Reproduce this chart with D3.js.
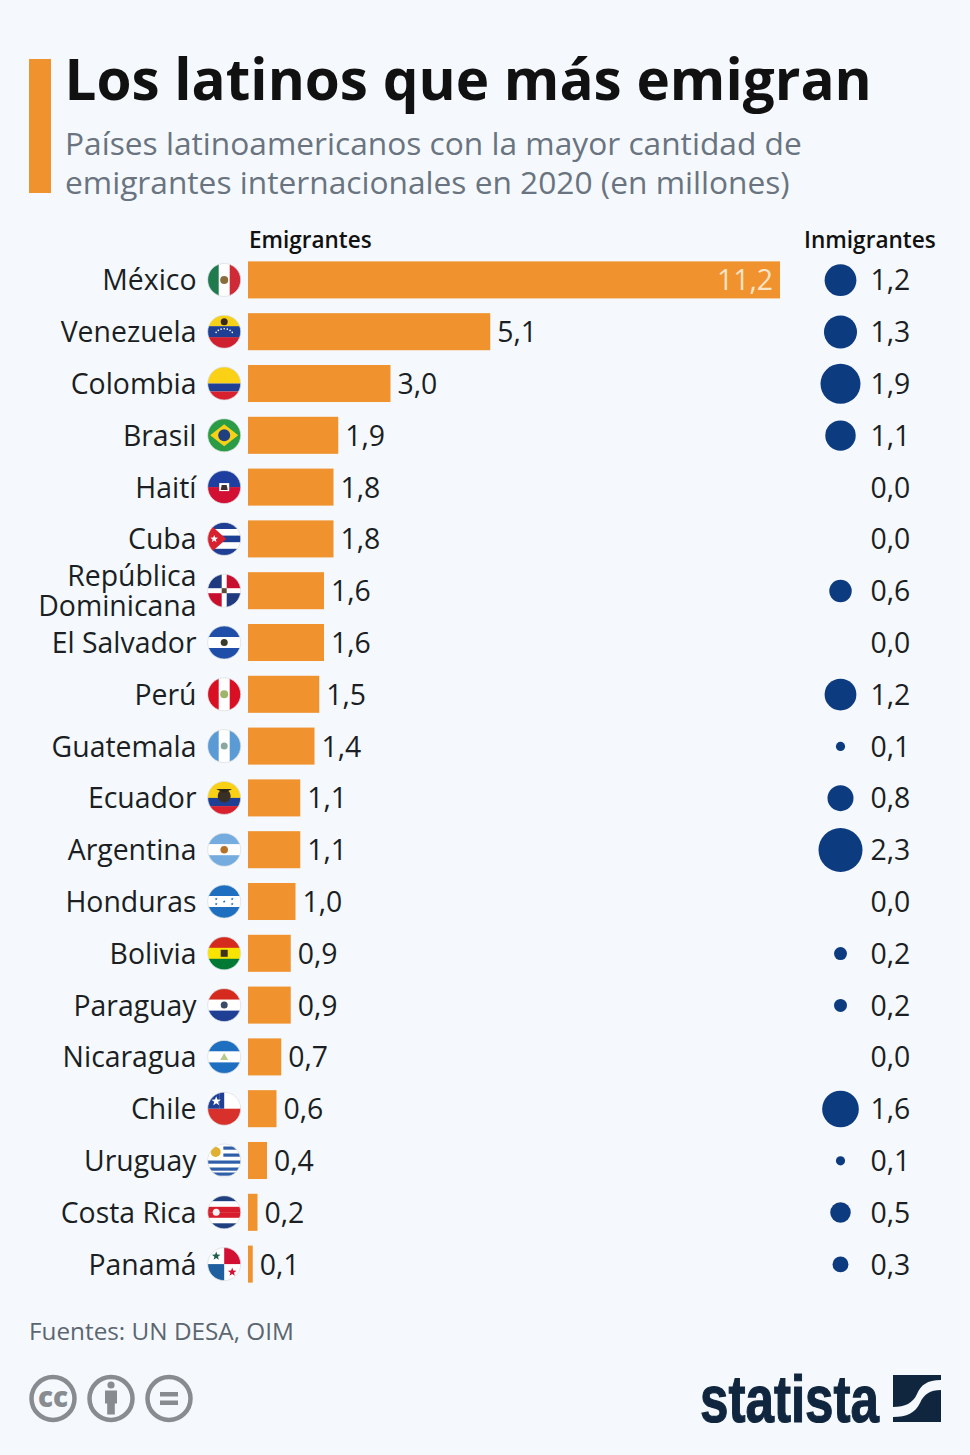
<!DOCTYPE html>
<html>
<head>
<meta charset="utf-8">
<script src="https://cdn.jsdelivr.net/npm/d3@7"></script>
<style>
html, body { margin: 0; padding: 0; background: #f5f9fd; }
text { font-family: "Open Sans", sans-serif; }
</style>
</head>
<body>
<svg id="chart" width="970" height="1455"></svg>
<script>
//DATA
var countries = ["México", "Venezuela", "Colombia", "Brasil", "Haití", "Cuba", "República Dominicana", "El Salvador", "Perú", "Guatemala", "Ecuador", "Argentina", "Honduras", "Bolivia", "Paraguay", "Nicaragua", "Chile", "Uruguay", "Costa Rica", "Panamá"];
var emigrants = [11.2, 5.1, 3.0, 1.9, 1.8, 1.8, 1.6, 1.6, 1.5, 1.4, 1.1, 1.1, 1.0, 0.9, 0.9, 0.7, 0.6, 0.4, 0.2, 0.1];
var immigrants = [1.2, 1.3, 1.9, 1.1, 0.0, 0.0, 0.6, 0.0, 1.2, 0.1, 0.8, 2.3, 0.0, 0.2, 0.2, 0.0, 1.6, 0.1, 0.5, 0.3];
var title = "Los latinos que más emigran";
var subtitle = ["Países latinoamericanos con la mayor cantidad de", "emigrantes internacionales en 2020 (en millones)"];
var source = "Fuentes: UN DESA, OIM";

//flag colours, one entry per country
var flagColors = [
    ["#1f7a4d", "#ffffff", "#ce2b37"], ["#f7d117", "#1f3f94", "#cf2030"], ["#fbd116", "#1f3f94", "#d8202f"],
    ["#2a9c45"], ["#1f3fa0", "#d21034"], ["#ffffff"], ["#ffffff"], ["#1f4ea8", "#ffffff", "#1f4ea8"],
    ["#d91023", "#ffffff", "#d91023"], ["#5b9bd5", "#ffffff", "#5b9bd5"], ["#fbd116", "#fbd116", "#1f3f94", "#d8202f"],
    ["#74acdf", "#ffffff", "#74acdf"], ["#1f6fc0", "#ffffff", "#1f6fc0"], ["#d52b1e", "#f9e300", "#007934"],
    ["#d52b1e", "#ffffff", "#1f3f94"], ["#1f6fc0", "#ffffff", "#1f6fc0"], ["#ffffff"], ["#ffffff"],
    ["#1f3f7f", "#ffffff", "#d81e2c", "#d81e2c", "#ffffff", "#1f3f7f"], ["#ffffff"]
];

var orange = "#f0922e";
var navy = "#0d3b7f";
var ink = "#1b1f23";
var background = "#f5f9fd";

var svg = d3.select("#chart");
var barLeft = 248;
var rowTop = 254;

var x = d3.scaleLinear().domain([0, 11.2]).range([barLeft, 780]);
var y = d3.scaleBand().domain(countries).range([rowTop, rowTop + 51.8 * 20]).paddingInner(0.285).paddingOuter(0.1425);
var r = d3.scaleSqrt().domain([0, 2.3]).range([0, 22]);
function rowY(name) { return y(name) + y.bandwidth() / 2; }

//HEADER
svg.append("rect").attr("x", 29).attr("y", 59).attr("width", 22).attr("height", 134).attr("fill", orange);
svg.append("text").attr("x", 64.5).attr("y", 100).text(title)
    .attr("font-size", "56.6px").attr("font-weight", 700).attr("fill", "#111");
svg.selectAll("text.sub").data(subtitle).join("text").attr("class", "sub")
    .attr("x", 65).attr("y", (d, i) => 155 + i * 38.5).text(d => d)
    .attr("font-size", "31.7px").attr("fill", "#6a7480");

svg.append("text").attr("x", 249).attr("y", 248).text("Emigrantes")
    .attr("font-size", "22.5px").attr("font-weight", 600).attr("fill", "#111");
svg.append("text").attr("x", 804).attr("y", 248).text("Inmigrantes")
    .attr("font-size", "22.6px").attr("font-weight", 600).attr("fill", "#111");

//COUNTRY LABELS
countries.forEach(function(name) {
    var label = svg.append("text").attr("text-anchor", "end").attr("font-size", "28.4px").attr("fill", ink);
    if (name === "República Dominicana") {
        label.append("tspan").attr("x", 196.5).attr("y", rowY(name) - 5).text("República");
        label.append("tspan").attr("x", 196.5).attr("y", rowY(name) + 25).text("Dominicana");
    } else {
        label.attr("x", 196.5).attr("y", rowY(name) + 10.4).text(name);
    }
});

//BARS
svg.selectAll("rect.bar").data(countries).join("rect").attr("class", "bar")
    .attr("x", x(0)).attr("y", d => y(d))
    .attr("width", (d, i) => x(emigrants[i]) - x(0))
    .attr("height", y.bandwidth()).attr("fill", orange);

var fmt = v => v.toFixed(1).replace(".", ",");
svg.selectAll("text.emi").data(countries).join("text").attr("class", "emi")
    .attr("x", (d, i) => i === 0 ? x(emigrants[i]) - 7 : x(emigrants[i]) + 7)
    .attr("y", d => rowY(d) + 10.4)
    .attr("text-anchor", (d, i) => i === 0 ? "end" : "start")
    .attr("font-size", "28.4px")
    .attr("fill", (d, i) => i === 0 ? "#fbe3c6" : ink)
    .text((d, i) => fmt(emigrants[i]));

//BUBBLES
svg.selectAll("circle.imm").data(countries).join("circle").attr("class", "imm")
    .attr("cx", 840.5).attr("cy", d => rowY(d) + 0.3)
    .attr("r", (d, i) => r(immigrants[i])).attr("fill", navy);
svg.selectAll("text.immv").data(countries).join("text").attr("class", "immv")
    .attr("x", 870.5).attr("y", d => rowY(d) + 10.4)
    .attr("font-size", "28.4px").attr("fill", ink)
    .text((d, i) => fmt(immigrants[i]));

//FLAGS
var defs = svg.append("defs");
defs.append("clipPath").attr("id", "flagClip").append("circle").attr("r", 16.5);

function star(g, cx, cy, size, color) {
    var pts = d3.range(10).map(function(i) {
        var a = -Math.PI / 2 + i * Math.PI / 5;
        var rad = i % 2 ? size * 0.42 : size;
        return [cx + rad * Math.cos(a), cy + rad * Math.sin(a)];
    });
    g.append("polygon").attr("points", pts.join(" ")).attr("fill", color);
}
function box(g, bx, by, w, h, color) {
    g.append("rect").attr("x", bx).attr("y", by).attr("width", w).attr("height", h).attr("fill", color);
}
function dot(g, cx, cy, rad, color) {
    g.append("circle").attr("cx", cx).attr("cy", cy).attr("r", rad).attr("fill", color);
}

//vertical tricolours, the rest of the stripes are horizontal
var vertical = ["México", "Perú", "Guatemala"];

countries.forEach(function(name, i) {
    var g = svg.append("g").attr("transform", "translate(224.2," + rowY(name) + ")");
    var inner = g.append("g").attr("clip-path", "url(#flagClip)");
    var cols = flagColors[i];
    cols.forEach(function(c, k) {
        if (vertical.includes(name)) {
            box(inner, -16.5 + k * 33 / cols.length, -17, 33 / cols.length + 0.3, 34, c);
        } else if (name === "Colombia") {
            box(inner, -17, [-17, 0, 8][k], 34, [17, 8, 9][k], c);
        } else {
            box(inner, -17, -16.5 + k * 33 / cols.length, 34, 33 / cols.length + 0.3, c);
        }
    });
    if (name === "México") dot(inner, 0, 0, 4, "#8a6d3b");
    if (name === "Venezuela") {
        dot(inner, 0, -10, 3.5, "#3a2a1a");
        d3.range(7).forEach(function(k) {
            var a = Math.PI * (0.2 + k * 0.1);
            dot(inner, -10 * Math.cos(a), 6 - 9 * Math.sin(a), 0.8, "#fff");
        });
    }
    if (name === "Brasil") {
        inner.append("polygon").attr("points", "-14,0 0,-11 14,0 0,11").attr("fill", "#f7d117");
        dot(inner, 0, 0, 6, "#1f3f7f");
    }
    if (name === "Haití") {
        box(inner, -5, -4, 10, 8, "#fff");
        inner.append("polygon").attr("points", "-3.5,3 -2.5,-2 2.5,-2 3.5,3").attr("fill", "#3b2f2f");
    }
    if (name === "Cuba") {
        [0, 2, 4].forEach(k => box(inner, -17, -16.5 + k * 6.6, 34, 6.6, "#1f3f94"));
        inner.append("polygon").attr("points", "-17,-17 2,0 -17,17").attr("fill", "#d8202f");
        star(inner, -10, 0, 4, "#fff");
    }
    if (name === "República Dominicana") {
        box(inner, -17, -17, 14.5, 14.5, "#1f3a7f"); box(inner, 2.5, 2.5, 15, 15, "#1f3a7f");
        box(inner, 2.5, -17, 15, 14.5, "#c8102e"); box(inner, -17, 2.5, 14.5, 15, "#c8102e");
        box(inner, -2.5, -2.5, 5, 5, "#5a4a3a");
    }
    if (name === "El Salvador") dot(inner, 0, 0, 3.5, "#3a3a2a");
    if (name === "Perú") dot(inner, 0, 0, 4, "#9bb56a");
    if (name === "Guatemala") dot(inner, 0, 0, 3.5, "#8aa8a0");
    if (name === "Ecuador") {
        dot(inner, 0, -2, 6.5, "#3a2f24");
        inner.append("polygon").attr("points", "-8,-9 8,-9 0,-5").attr("fill", "#2c2620");
    }
    if (name === "Argentina") dot(inner, 0, 0, 3.8, "#b5702a");
    if (name === "Honduras") {
        [[-8, -2.5], [-8, 2.5], [0, 0], [8, -2.5], [8, 2.5]].forEach(p => star(inner, p[0], p[1], 1.6, "#1f6fc0"));
    }
    if (name === "Bolivia") box(inner, -3.5, -3.5, 7, 7, "#3f3320");
    if (name === "Paraguay") dot(inner, 0, 0, 3.5, "#3a4a6a");
    if (name === "Nicaragua") inner.append("polygon").attr("points", "-4,3 0,-4 4,3").attr("fill", "#b9c98c");
    if (name === "Chile") {
        box(inner, -17, 0, 34, 17, "#d8302a");
        box(inner, -17, -17, 12, 17, "#1f3f94");
        box(inner, -5, -17, 5, 17, "#1f3f94");
        star(inner, -8, -7.5, 5, "#fff");
    }
    if (name === "Uruguay") {
        [-14, -7, 0, 7, 12].forEach(sy => box(inner, sy < 0 ? -1 : -17, sy, 34, 3.2, "#2f5fa8"));
        box(inner, -17, -17, 16, 16, "#fff");
        dot(inner, -8.5, -8.5, 5, "#e0b030");
    }
    if (name === "Costa Rica") dot(inner, -8, 0, 3.5, "#f2f2f2");
    if (name === "Panamá") {
        box(inner, 0, -17, 17, 17, "#d21034"); box(inner, -17, 0, 17, 17, "#1f5f9f");
        star(inner, -8, -8, 4.5, "#1f5f4f"); star(inner, 8, 8, 4.5, "#d21034");
    }
    g.append("circle").attr("r", 16.5).attr("fill", "none").attr("stroke", "#d9dde0").attr("stroke-width", 0.7);
});

//FOOTER
svg.append("text").attr("x", 29).attr("y", 1339.5).text(source)
    .attr("font-size", "24.3px").attr("fill", "#5b6670");

var ccGrey = "#888c90";
[53, 111, 169].forEach(function(cx, i) {
    var g = svg.append("g").attr("transform", "translate(" + cx + ",1398.5)");
    g.append("circle").attr("r", 21.5).attr("fill", "none").attr("stroke", ccGrey).attr("stroke-width", 4.5);
    if (i === 0) {
        g.append("text").attr("text-anchor", "middle").attr("y", 8.5).text("cc")
            .attr("font-size", "28px").attr("font-weight", 800).attr("fill", ccGrey);
    } else if (i === 1) {
        dot(g, 0, -13.5, 3.6, ccGrey);
        box(g, -6, -8, 12, 13, ccGrey);
        box(g, -3.8, 3, 7.6, 13, ccGrey);
    } else {
        box(g, -9, -6.5, 18, 4.5, ccGrey);
        box(g, -9, 2, 18, 4.5, ccGrey);
    }
});

var logoColor = "#10263f";
svg.append("text").attr("x", 700).attr("y", 1421.5).text("statista")
    .attr("textLength", 179).attr("lengthAdjust", "spacingAndGlyphs")
    .style("font-family", "'Liberation Sans', sans-serif")
    .attr("font-size", "66px").attr("font-weight", 700).attr("fill", logoColor)
    .attr("stroke", logoColor).attr("stroke-width", 1.2);
var logo = svg.append("g").attr("transform", "translate(893,1375)");
box(logo, 0, 0, 48, 47, logoColor);
logo.append("path")
    .attr("d", "M48,5 C34,5 28,10 24,19 C20,28 12,32 0,32 L0,42 C14,42 22,38 27,28 C31,19 37,15 48,15 Z")
    .attr("fill", background);
</script>
</body>
</html>
